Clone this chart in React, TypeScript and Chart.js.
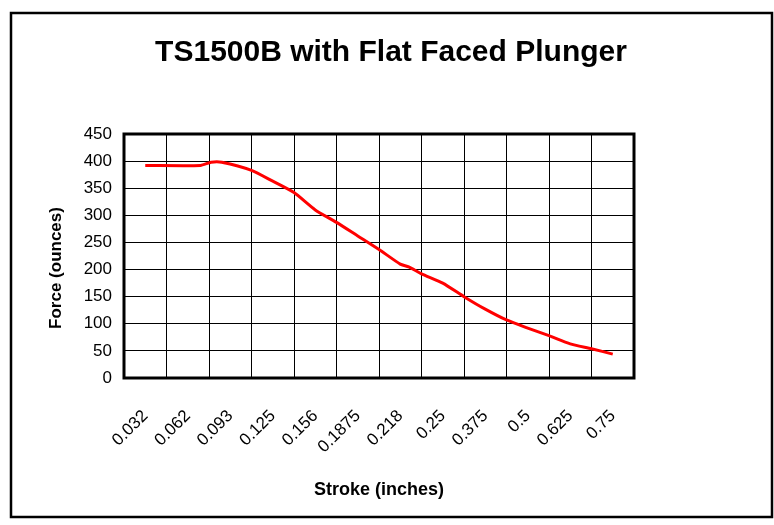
import React, { useEffect, useRef } from "react";
import { Chart, registerables } from "chart.js";

Chart.register(...registerables);

const chartTitle = "TS1500B with Flat Faced Plunger";
const xAxisTitle = "Stroke (inches)";
const yAxisTitle = "Force (ounces)";

const strokeLabels = ["0.032", "0.062", "0.093", "0.125", "0.156", "0.1875", "0.218", "0.25", "0.375", "0.5", "0.625", "0.75"];

// measurement positions, expressed in category index units (0 = first label)
const samplePositions = [0, 1.3, 1.55, 1.8, 2.5, 3.0, 3.5, 4.0, 4.5, 5.0, 5.5, 6.0, 6.2, 6.5, 7.0, 7.5, 8.0, 8.5, 9.0, 9.5, 10.0, 10.5, 11.0];
const forceValues = [392, 392, 398, 398, 383, 363, 342, 310, 287, 262, 237, 210, 205, 192, 175, 150, 127, 107, 92, 78, 63, 54, 44];

const yTicks = { min: 0, max: 450, step: 50 };

const FONT = "'Liberation Sans', Arial, sans-serif";

const decorPlugin = {
  id: "decor",
  beforeDatasetsDraw(chart: any) {
    const { ctx, chartArea } = chart;
    ctx.save();
    ctx.strokeStyle = "#000";
    ctx.lineWidth = 3;
    ctx.strokeRect(chartArea.left, chartArea.top, chartArea.right - chartArea.left, chartArea.bottom - chartArea.top);
    ctx.restore();
  },
  afterDraw(chart: any) {
    const { ctx } = chart;
    ctx.save();
    ctx.strokeStyle = "#000";
    ctx.lineWidth = 2.5;
    ctx.strokeRect(11, 13, 761, 504);
    ctx.fillStyle = "#000";
    ctx.textAlign = "center";
    ctx.textBaseline = "middle";
    ctx.font = `bold 30px ${FONT}`;
    ctx.fillText(chartTitle, 391, 53);
    ctx.translate(56, 268);
    ctx.rotate(-Math.PI / 2);
    ctx.font = `bold 17px ${FONT}`;
    ctx.fillText(yAxisTitle, 0, 0);
    ctx.restore();
  },
};

export default function App() {
  const ref = useRef<HTMLCanvasElement | null>(null);
  useEffect(() => {
    if (!ref.current) return;
    const points = samplePositions.map((p, i) => ({ x: p, y: forceValues[i] }));
    const chart = new Chart(ref.current, {
      type: "line",
      data: {
        labels: strokeLabels,
        datasets: [
          {
            data: points as any,
            xAxisID: "xv",
            borderColor: "#ff0000",
            borderWidth: 3,
            pointRadius: 0,
            tension: 0.2,
            fill: false,
          },
        ],
      },
      options: {
        responsive: false,
        animation: false,
        layout: { padding: { left: 0, right: 140, top: 134, bottom: 0 } },
        plugins: { legend: { display: false }, tooltip: { enabled: false }, title: { display: false } },
        scales: {
          x: {
            type: "category",
            offset: true,
            grid: { offset: true, color: "#000", lineWidth: 1, drawTicks: false },
            border: { display: false },
            ticks: {
              color: "#000",
              font: { family: FONT, size: 17 },
              minRotation: 45,
              maxRotation: 45,
              autoSkip: false,
              padding: 28,
            },
            title: {
              display: true,
              text: xAxisTitle,
              color: "#000",
              font: { family: FONT, size: 18, weight: "bold" },
              padding: { top: 0, bottom: 24 },
            },
            afterFit(scale: any) {
              scale.height = 147;
            },
          },
          xv: {
            type: "linear",
            display: false,
            min: -0.5,
            max: 11.5,
          },
          y: {
            min: yTicks.min,
            max: yTicks.max,
            ticks: {
              stepSize: yTicks.step,
              color: "#000",
              font: { family: FONT, size: 17 },
              padding: 12,
            },
            grid: { color: "#000", lineWidth: 1, drawTicks: false },
            border: { display: false },
            afterFit(scale: any) {
              scale.width = 124;
            },
          },
        },
      },
      plugins: [decorPlugin],
    } as any);
    return () => chart.destroy();
  }, []);
  return (
    <div style={{ position: "absolute", left: 0, top: 0, width: 774, height: 525, background: "#fff" }}>
      <canvas ref={ref} width={774} height={525} style={{ display: "block" }} />
    </div>
  );
}
